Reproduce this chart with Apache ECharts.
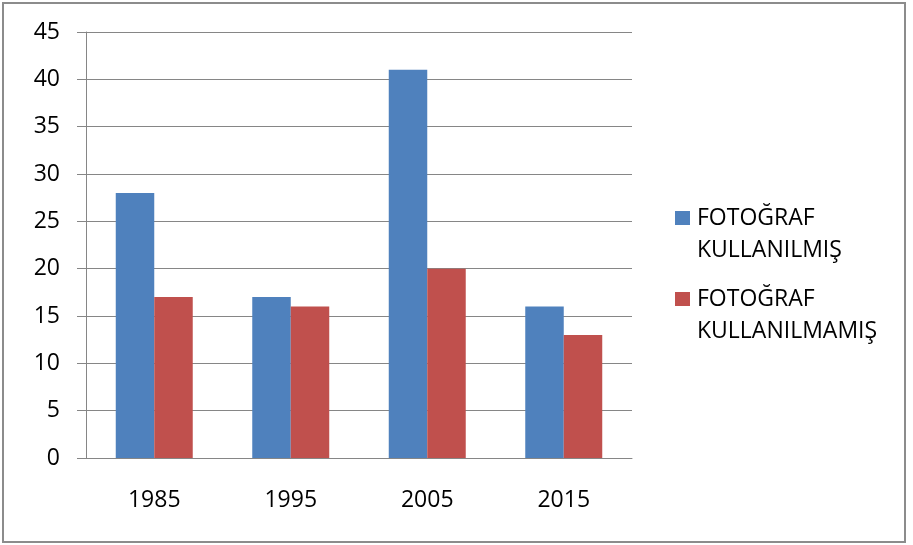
<!DOCTYPE html>
<html>
<head>
<meta charset="utf-8">
<script src="https://cdn.jsdelivr.net/npm/echarts@6/dist/echarts.min.js"></script>
<style>
  html, body { margin: 0; padding: 0; background: #fff; }
  #chart { width: 913px; height: 545px; }
</style>
</head>
<body>
<div id="chart"></div>
<script>
// data
const years = ['1985', '1995', '2005', '2015'];
const withPhoto = [28, 17, 41, 16];
const withoutPhoto = [17, 16, 20, 13];
const seriesNames = ['FOTOĞRAF\nKULLANILMIŞ', 'FOTOĞRAF\nKULLANILMAMIŞ'];
const yTicks = { min: 0, max: 45, interval: 5 };

const font = '"Open Sans", sans-serif';
const gray = '#868686';

const myChart = echarts.init(document.getElementById('chart'));

// one legend per item; an empty first line puts the icon beside the first word
function legendFor(name, top) {
    return {
        data: [name],
        left: 670,
        top: top,
        orient: 'vertical',
        itemWidth: 15,
        itemHeight: 14,
        itemGap: 0,
        icon: 'rect',
        selectedMode: false,
        formatter: n => '\n' + n,
        textStyle: {
            fontFamily: font,
            fontSize: 23,
            color: '#000',
            lineHeight: 32,
            padding: [0, 0, 0, 2]
        }
    };
}

const option = {
    animation: false,
    color: ['#4F81BD', '#C0504D'],
    grid: { left: 86, right: 281, top: 32, bottom: 87 },
    legend: [legendFor(seriesNames[0], 165), legendFor(seriesNames[1], 246)],
    graphic: [{
        type: 'rect',
        shape: { x: 3, y: 3, width: 902, height: 539 },
        style: { fill: 'none', stroke: '#8c8c8c', lineWidth: 2 },
        silent: true
    }],
    xAxis: {
        type: 'category',
        data: years,
        axisLine: { lineStyle: { color: gray } },
        axisTick: { length: 8, lineStyle: { color: gray } },
        axisLabel: { color: '#000', fontFamily: font, fontSize: 23, margin: 31 }
    },
    yAxis: {
        type: 'value',
        min: yTicks.min,
        max: yTicks.max,
        interval: yTicks.interval,
        axisLine: { show: true, lineStyle: { color: gray } },
        axisTick: { show: true, length: 9, lineStyle: { color: gray } },
        splitLine: { lineStyle: { color: gray } },
        axisLabel: { color: '#000', fontFamily: font, fontSize: 23, margin: 26 }
    },
    series: [
        { name: seriesNames[0], type: 'bar', data: withPhoto, barGap: 0, barCategoryGap: '43.6%' },
        { name: seriesNames[1], type: 'bar', data: withoutPhoto, barGap: 0, barCategoryGap: '43.6%' }
    ]
};

myChart.setOption(option);
</script>
</body>
</html>
